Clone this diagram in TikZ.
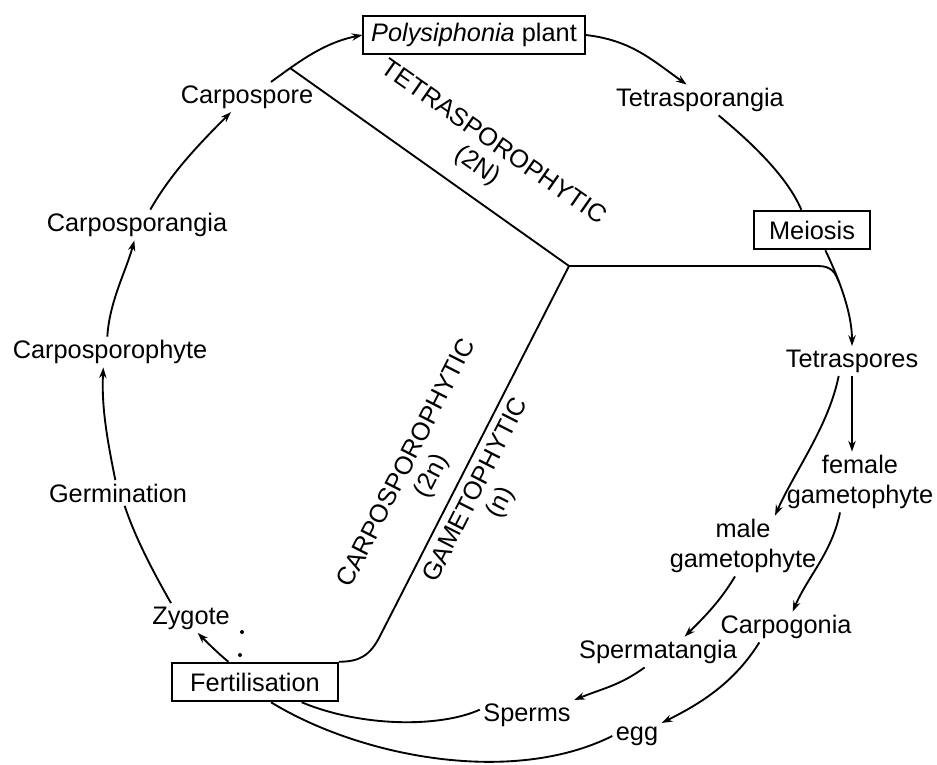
\documentclass[tikz,border=0pt]{standalone}
\usepackage{fontspec}
\setmainfont{Liberation Sans}
\usetikzlibrary{arrows.meta}

\tikzset{every picture/.style={line width=1.4pt}}
\tikzset{
  stage/.style={inner sep=2pt, font=\fontsize{19}{22.5}\selectfont, align=center},
  stagebox/.style={stage, draw, minimum height=29pt},
  phase/.style={inner sep=1pt, font=\fontsize{19}{21}\selectfont, align=center},
  flow/.style={-{Stealth[length=8pt,width=5.5pt]}},
}

\begin{document}
\begin{tikzpicture}[x=0.75pt,y=0.75pt,yscale=-1,xscale=1]
\useasboundingbox (0,0) rectangle (937,764);

% Text Node
\node [stagebox, minimum width=166pt] (plant) at (474,35) {\textit{Polysiphonia} plant};
% Text Node
\node [stage] (tsporangia) at (700,100) {Tetrasporangia};
% Text Node
\node [stagebox, minimum width=87pt] (meiosis) at (812,230) {Meiosis};
% Text Node
\node [stage] (tspores) at (852,361) {Tetraspores};
% Text Node
\node [stage] (female) at (860,482) {female\\gametophyte};
% Text Node
\node [stage] (male) at (743,546) {male\\gametophyte};
% Text Node
\node [stage] (carpogonia) at (786,627) {Carpogonia};
% Text Node
\node [stage] (spermatangia) at (658,652) {Spermatangia};
% Text Node
\node [stage] (sperms) at (527,715) {Sperms};
% Text Node
\node [stage] (egg) at (637,736) {egg};
% Text Node
\node [stagebox, minimum width=124.5pt] (fert) at (255,682) {Fertilisation};
% Text Node
\node [stage] (zygote) at (191,618) {Zygote};
% Text Node
\node [stage] (germ) at (118,493) {Germination};
% Text Node
\node [stage] (cspophyte) at (110,352) {Carposporophyte};
% Text Node
\node [stage] (csporangia) at (137,225) {Carposporangia};
% Text Node
\node [stage] (cspore) at (247,97) {Carpospore};

% Phase labels
\node [phase, rotate=-35] (tetraLbl) at (485,155) {TETRASPOROPHYTIC\\(2N)};
\node [phase, rotate=63] (carpLbl) at (420,470) {CARPOSPOROPHYTIC\\(2n)};
\node [phase, rotate=63] (gameLbl) at (489,497) {GAMETOPHYTIC\\(n)};

%Curve Lines (tetrasporophyte side)
\draw [flow] (plant.east) .. controls +(45,5) and +(-35,-25) .. ([xshift=-10pt]tsporangia.north);
\draw ([xshift=14pt]tsporangia.south) .. controls +(30,25) and +(-15,-35) .. ([xshift=-8pt]meiosis.north);
\draw [flow] ([xshift=10pt]meiosis.south) .. controls +(12,25) and +(0,-35) .. coordinate[pos=0.38] (meet) (tspores.north);

%Curve Lines (gametophyte side)
\draw [flow] (tspores.south) -- ([xshift=-6pt]female.north);
\draw [flow] ([xshift=-10pt]tspores.south) .. controls +(-10,50) and +(20,-45) .. ([xshift=24pt]male.north);
\draw [flow] ([xshift=-15pt]female.south) .. controls +(-8,40) and +(15,-35) .. ([xshift=5pt]carpogonia.north);
\draw [flow] ([xshift=-6pt]male.south) .. controls +(-15,25) and +(20,-20) .. ([xshift=20pt]spermatangia.north);
\draw [flow] ([xshift=-20pt]carpogonia.south) .. controls +(-25,40) and +(40,-20) .. (egg.north east);
\draw [flow] ([xshift=-10pt]spermatangia.south) .. controls +(-25,18) and +(30,-12) .. (sperms.north east);
\draw ([yshift=-4pt]sperms.west) .. controls +(-40,18) and +(60,25) .. ([xshift=35pt]fert.south);
\draw (egg.west) .. controls +(-100,50) and +(90,55) .. ([xshift=12pt]fert.south);

%Curve Lines (carposporophyte side)
\draw [flow] ([xshift=-20pt]fert.north) .. controls +(-12,-10) and +(8,8) .. ([xshift=5pt]zygote.south);
\draw ([xshift=-15pt]zygote.north) .. controls +(-20,-35) and +(10,30) .. ([xshift=5pt]germ.south);
\draw [flow] ([xshift=-2pt]germ.north) .. controls +(-8,-40) and +(-2,40) .. ([xshift=-5pt]cspophyte.south);
\draw [flow] ([xshift=-2pt]cspophyte.north) .. controls +(2,-35) and +(-8,30) .. ([xshift=-2pt]csporangia.south);
\draw [flow] ([xshift=10pt]csporangia.north) .. controls +(20,-35) and +(-35,35) .. ([xshift=-12pt]cspore.south);
\draw [flow] ([xshift=18pt]cspore.north) .. controls +(25,-18) and +(-40,8) .. coordinate[pos=0.25] (tetraEnd) (plant.west);

%Straight Lines (phase borders)
\coordinate (hub) at (569,266);
\coordinate (hubE) at (818,266);
\coordinate (hubSW) at (380,636);
\draw (hub) -- (tetraEnd);
\draw (hub) -- (hubE) .. controls +(14,0) and +(-4,-10) .. (meet);
\draw (hub) -- (hubSW) .. controls +(-10,20) and +(20,0) .. (fert.north east);

% Dots
\fill (242,632) circle (2);
\fill (240,655) circle (2);

\end{tikzpicture}
\end{document}
